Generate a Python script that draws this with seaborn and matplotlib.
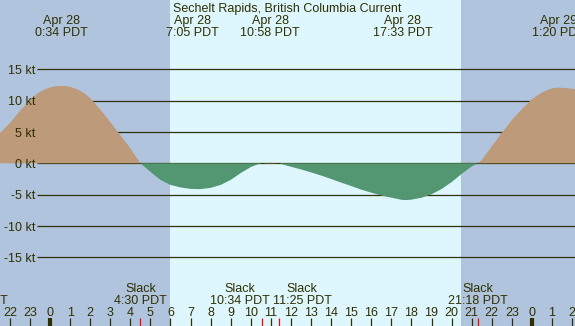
import matplotlib
matplotlib.use("Agg")
import matplotlib.pyplot as plt
import seaborn as sns
import pandas as pd
import numpy as np

# ---------------- data ----------------
title = "Sechelt Rapids, British Columbia Current"

hours = [-2.5, -2.0, -1.5, -1.0, -0.75, -0.5, -0.25, 0.0, 0.25, 0.5, 0.75,
         1.0, 1.25, 1.5, 1.75, 2.0, 2.5, 3.0, 3.5,
         4.0, 4.5, 5.0, 5.5, 6.0, 6.5, 7.0, 7.5, 8.0, 8.5, 9.0, 9.5, 10.0,
         10.3, 10.567, 10.8, 10.967, 11.15, 11.417, 11.7, 12.0, 12.5, 13.0,
         13.5, 14.0, 14.5, 15.0, 15.5, 16.0, 16.5, 17.0, 17.3, 17.55, 17.8,
         18.0, 18.5, 19.0, 19.5, 20.0, 20.5, 21.0, 21.3, 21.5, 22.0, 22.5,
         23.0, 23.5, 24.0, 24.5, 24.75, 25.0, 25.15, 25.333, 25.5, 25.75,
         26.0, 26.2]
knots = [4.8, 6.4, 8.35, 10.1, 10.8, 11.4, 11.8, 12.1, 12.28, 12.35, 12.33,
         12.2, 11.95, 11.6, 11.1, 10.4, 8.6, 6.6, 4.5,
         2.4, 0.0, -1.35, -2.65, -3.45, -3.85, -4.08, -4.12, -3.92, -3.45,
         -2.65, -1.55, -0.6, -0.22, 0.0, 0.05, 0.07, 0.05, 0.0, -0.28, -0.55,
         -0.98, -1.45, -1.95, -2.5, -3.08, -3.62, -4.2, -4.68, -5.15, -5.48,
         -5.68, -5.85, -5.86, -5.8, -5.5, -4.95, -4.1, -3.0, -1.7, -0.5, 0.0,
         0.5, 2.7, 4.85, 6.9, 8.65, 10.25, 11.3, 11.65, 11.95, 12.04, 12.08,
         12.05, 11.98, 11.9, 11.8]

peak_hours = [0.567, 7.083, 10.967, 17.55, 25.333]
peak_dates = ["Apr 28", "Apr 28", "Apr 28", "Apr 28", "Apr 29"]
peak_times = ["0:34 PDT", "7:05 PDT", "10:58 PDT", "17:33 PDT", "1:20 PDT"]

slack_hours = [-3.58, 4.5, 10.567, 11.417, 21.3]
slack_times = ["20:25 PDT", "4:30 PDT", "10:34 PDT", "11:25 PDT", "21:18 PDT"]

sunrise = 5.98
sunset = 20.47

grid_kt = [15, 10, 5, 0, -5, -10, -15]
grid_labels = ["15 kt", "10 kt", "5 kt", "0 kt", "-5 kt", "-10 kt", "-15 kt"]
hour_ticks = list(range(-2, 27))
midnights = [0, 24]

# ---------------- style ----------------
W, H = 575, 326
X0, PXH = 50.0, 20.08      # pixel of hour 0, pixels per hour
Y0, PXK = 163.3, 6.267     # pixel of 0 kt, pixels per knot

TXT = "#2f2f00"
NIGHT = "#b0c4de"
DAY = "#def7fe"
FLOOD = "#bc9a7a"
EBB = "#529672"
FONT = "Liberation Sans"
FS = 9


def fx(px):
    return (px - X0) / PXH


def fy(py):
    return (Y0 - py) / PXK


fig = plt.figure(figsize=(W / 100, H / 100), dpi=100)
ax = fig.add_axes([0, 0, 1, 1])

# backgrounds
ax.axvspan(fx(-10), sunrise, color=NIGHT, lw=0, zorder=0)
ax.axvspan(sunrise, sunset, color=DAY, lw=0, zorder=0)
ax.axvspan(sunset, fx(W + 10), color=NIGHT, lw=0, zorder=0)

# grid lines and labels
for k, lab in zip(grid_kt, grid_labels):
    ax.plot([fx(36.5), fx(W + 5)], [k, k], color=TXT, lw=0.9, zorder=1,
            solid_capstyle="butt")
    ax.text(fx(35.5), fy(Y0 - k * PXK + 4.6), lab, ha="right", va="baseline",
            color=TXT, fontsize=FS, family=FONT, zorder=5)

# current curve
df = pd.DataFrame({"hour": hours, "kt": knots})
h = np.array(hours)
v = np.array(knots)
ax.fill_between(h, 0, v, where=v >= 0, interpolate=True, color=FLOOD, lw=0,
                zorder=2)
ax.fill_between(h, 0, v, where=v <= 0, interpolate=True, color=EBB, lw=0,
                zorder=2)
sns.lineplot(data=df, x="hour", y="kt", ax=ax, lw=0, legend=False, zorder=2)
ax.set_xlim(fx(0), fx(W))
ax.set_ylim(fy(H), fy(0))
ax.axis("off")

# title
ax.text(fx(W / 2), fy(11.7), title, ha="center", va="baseline", color=TXT,
        fontsize=FS, family=FONT)

# max/min labels
for hh, d, t in zip(peak_hours, peak_dates, peak_times):
    ax.text(hh, fy(24.2), d, ha="center", va="baseline", color=TXT,
            fontsize=FS, family=FONT)
    ax.text(hh, fy(36.2), t, ha="center", va="baseline", color=TXT,
            fontsize=FS, family=FONT)

# slack labels (nudged horizontally to avoid overlap, in pixels)
nudges = [0, 0, -22, 23, 0]
for hh, t, n in zip(slack_hours, slack_times, nudges):
    xh = hh + n / PXH
    ax.text(xh, fy(291.7), "Slack", ha="center", va="baseline", color=TXT,
            fontsize=FS, family=FONT)
    ax.text(xh, fy(304.3), t, ha="center", va="baseline", color=TXT,
            fontsize=FS, family=FONT)

# hour ticks
for hr in hour_ticks:
    ax.text(hr, fy(315.8), str(hr % 24), ha="center", va="baseline",
            color=TXT, fontsize=FS, family=FONT)
    lw = 3.0 if hr in midnights else 0.9
    ax.plot([hr, hr], [fy(318.3), fy(H + 2)], color=TXT, lw=lw,
            solid_capstyle="butt", zorder=3)
for hh in slack_hours:
    ax.plot([hh, hh], [fy(318.3), fy(H + 2)], color="red", lw=0.9,
            solid_capstyle="butt", zorder=4)

fig.savefig("out.png", dpi=100)
